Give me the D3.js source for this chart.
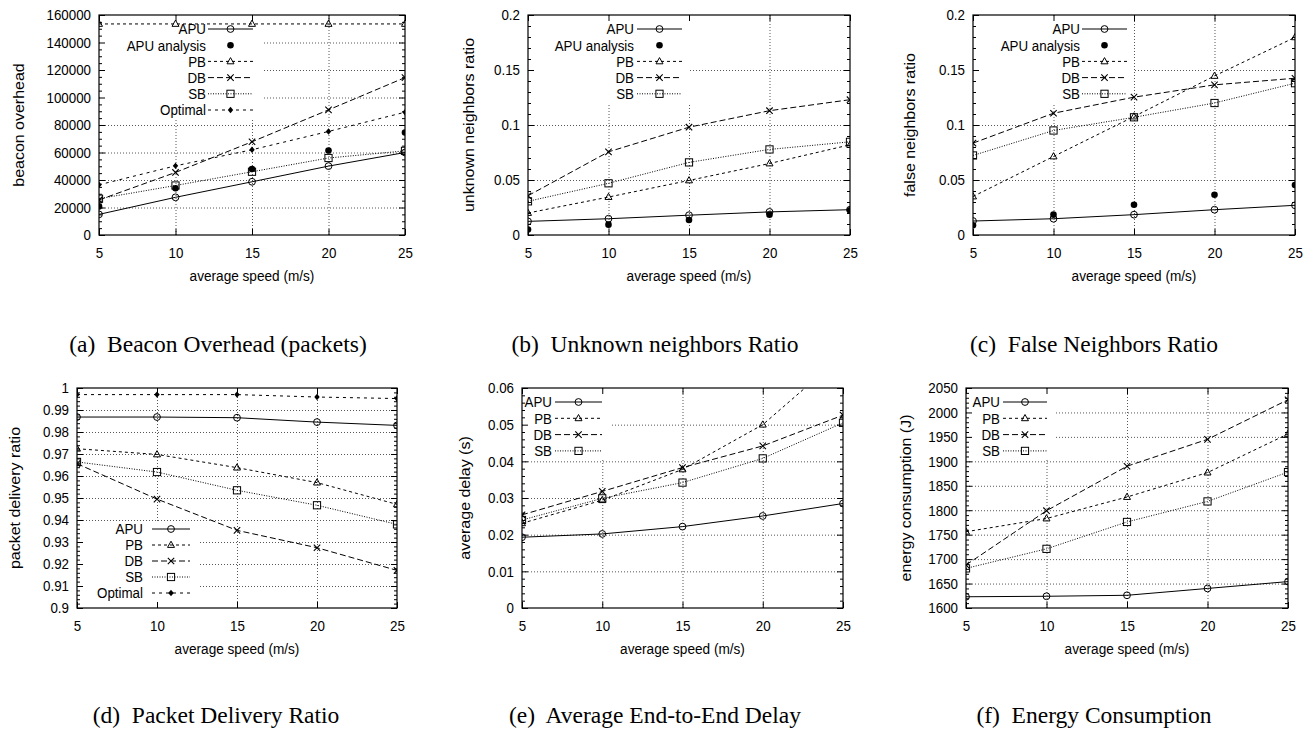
<!DOCTYPE html>
<html>
<head>
<meta charset="utf-8">
<script src="https://cdn.jsdelivr.net/npm/d3@7"></script>
<style>
  html, body { margin: 0; padding: 0; background: #fff; }
  svg { display: block; }
</style>
</head>
<body>
<svg id="chart" width="1314" height="731"></svg>
<script>
// ---------------- data ----------------
const speeds = [5, 10, 15, 20, 25];
const speedTickLabels = ["5", "10", "15", "20", "25"];

// (a) Beacon overhead (packets)
const overheadAPU      = [15000, 27400, 38700, 50100, 60000];
const overheadAnalysis = [20800, 34000, 48000, 61500, 74600];
const overheadPB       = [153500, 153500, 153500, 153500, 153500];
const overheadDB       = [25500, 45500, 67800, 91000, 114500];
const overheadSB       = [26400, 36000, 46000, 56000, 61200];
const overheadOptimal  = [36500, 50300, 62000, 75300, 89300];
const overheadTicks      = [0, 20000, 40000, 60000, 80000, 100000, 120000, 140000, 160000];
const overheadTickLabels = ["0", "20000", "40000", "60000", "80000", "100000", "120000", "140000", "160000"];

// (b) Unknown neighbors ratio
const unknownAPU      = [0.0124, 0.0148, 0.018, 0.021, 0.023];
const unknownAnalysis = [0.005, 0.0094, 0.0136, 0.0185, 0.0224];
const unknownPB       = [0.02, 0.0345, 0.0496, 0.065, 0.082];
const unknownDB       = [0.0357, 0.0756, 0.098, 0.113, 0.123];
const unknownSB       = [0.0306, 0.047, 0.066, 0.0778, 0.0847];

// (c) False neighbors ratio
const falseAPU      = [0.0127, 0.0148, 0.0185, 0.023, 0.027];
const falseAnalysis = [0.0088, 0.0185, 0.0275, 0.0366, 0.0454];
const falsePB       = [0.035, 0.0714, 0.1077, 0.1446, 0.1797];
const falseDB       = [0.0835, 0.1107, 0.1253, 0.1365, 0.1425];
const falseSB       = [0.0723, 0.095, 0.107, 0.12, 0.138];

const ratioTicks      = [0, 0.05, 0.1, 0.15, 0.2];
const ratioTickLabels = ["0", "0.05", "0.1", "0.15", "0.2"];

// (d) Packet delivery ratio
const pdrAPU     = [0.9868, 0.9868, 0.9865, 0.9845, 0.983];
const pdrPB      = [0.9724, 0.9698, 0.9638, 0.957, 0.9471];
const pdrDB      = [0.9656, 0.9495, 0.9353, 0.9274, 0.9171];
const pdrSB      = [0.9664, 0.9618, 0.9535, 0.9467, 0.938];
const pdrOptimal = [0.997, 0.997, 0.997, 0.9959, 0.9952];
const pdrTicks      = [0.9, 0.91, 0.92, 0.93, 0.94, 0.95, 0.96, 0.97, 0.98, 0.99, 1];
const pdrTickLabels = ["0.9", "0.91", "0.92", "0.93", "0.94", "0.95", "0.96", "0.97", "0.98", "0.99", "1"];

// (e) Average end-to-end delay (s)
const delayAPU = [0.0193, 0.0202, 0.0222, 0.0251, 0.0285];
const delayPB  = [0.0231, 0.0294, 0.0378, 0.0500, 0.0690];
const delayDB  = [0.0254, 0.0318, 0.0383, 0.0442, 0.0526];
const delaySB  = [0.0240, 0.0299, 0.0342, 0.0408, 0.0505];
const delayTicks      = [0, 0.01, 0.02, 0.03, 0.04, 0.05, 0.06];
const delayTickLabels = ["0", "0.01", "0.02", "0.03", "0.04", "0.05", "0.06"];

// (f) Energy consumption (J)
const energyAPU = [1623, 1624, 1626, 1640, 1654];
const energyPB  = [1756, 1783, 1827, 1877, 1956];
const energyDB  = [1688, 1799, 1890, 1945, 2026];
const energySB  = [1681, 1721, 1776, 1818, 1878];
const energyTicks      = [1600, 1650, 1700, 1750, 1800, 1850, 1900, 1950, 2000, 2050];
const energyTickLabels = ["1600", "1650", "1700", "1750", "1800", "1850", "1900", "1950", "2000", "2050"];

// ---------------- styles ----------------
const styles = {
  "APU":          { dash: null,    marker: "circle",  line: true },
  "APU analysis": { dash: null,    marker: "dot",     line: false },
  "PB":           { dash: "3,3",   marker: "tri",     line: true },
  "DB":           { dash: "6,3",   marker: "x",       line: true },
  "SB":           { dash: "1,1.5", marker: "sq",      line: true },
  "Optimal":      { dash: "3,4",   marker: "diamond", line: true }
};

const panels = [
  { box: [99, 405, 15, 235], yTicks: overheadTicks, yLabels: overheadTickLabels, minorDiv: 4,
    ylabel: "beacon overhead", ylabelX: 19, captionX: 218, captionY: 352,
    caption: "(a)\u00a0 Beacon Overhead (packets)",
    series: [["APU", overheadAPU], ["APU analysis", overheadAnalysis], ["PB", overheadPB],
             ["DB", overheadDB], ["SB", overheadSB], ["Optimal", overheadOptimal]],
    legend: { textRight: 206, x1: 208, x2: 253, y0: 29, dy: 16.2, boxRight: 262, boxTop: 15, boxBottom: 118 } },
  { box: [528, 850, 15, 235], yTicks: ratioTicks, yLabels: ratioTickLabels, minorDiv: 5,
    ylabel: "unknown neighbors ratio", ylabelX: 469, captionX: 655, captionY: 352,
    caption: "(b)\u00a0 Unknown neighbors Ratio",
    series: [["APU", unknownAPU], ["APU analysis", unknownAnalysis], ["PB", unknownPB],
             ["DB", unknownDB], ["SB", unknownSB]],
    legend: { textRight: 634, x1: 637, x2: 682, y0: 29, dy: 16.2, boxRight: 690, boxTop: 15, boxBottom: 103 } },
  { box: [973, 1295, 15, 235], yTicks: ratioTicks, yLabels: ratioTickLabels, minorDiv: 5,
    ylabel: "false neighbors ratio", ylabelX: 910, captionX: 1094, captionY: 352,
    caption: "(c)\u00a0 False Neighbors Ratio",
    series: [["APU", falseAPU], ["APU analysis", falseAnalysis], ["PB", falsePB],
             ["DB", falseDB], ["SB", falseSB]],
    legend: { textRight: 1080, x1: 1082, x2: 1127, y0: 29, dy: 16.2, boxRight: 1134, boxTop: 15, boxBottom: 103 } },
  { box: [77, 397, 388, 608], yTicks: pdrTicks, yLabels: pdrTickLabels, minorDiv: 5,
    ylabel: "packet delivery ratio", ylabelX: 15, captionX: 216, captionY: 723,
    caption: "(d)\u00a0 Packet Delivery Ratio",
    series: [["APU", pdrAPU], ["PB", pdrPB], ["DB", pdrDB], ["SB", pdrSB], ["Optimal", pdrOptimal]],
    legend: { textRight: 143, x1: 152, x2: 190, y0: 529, dy: 16, boxRight: 199, boxTop: 521, boxBottom: 608 } },
  { box: [522, 843, 388, 608], yTicks: delayTicks, yLabels: delayTickLabels, minorDiv: 5,
    ylabel: "average delay (s)", ylabelX: 465, captionX: 655, captionY: 723,
    caption: "(e)\u00a0 Average End-to-End Delay",
    series: [["APU", delayAPU], ["PB", delayPB], ["DB", delayDB], ["SB", delaySB]],
    legend: { textRight: 552, x1: 555, x2: 602, y0: 402, dy: 16.3, boxRight: 610, boxTop: 388, boxBottom: 458 } },
  { box: [966, 1288, 388, 608], yTicks: energyTicks, yLabels: energyTickLabels, minorDiv: 5,
    ylabel: "energy consumption (J)", ylabelX: 906, captionX: 1094, captionY: 723,
    caption: "(f)\u00a0 Energy Consumption",
    series: [["APU", energyAPU], ["PB", energyPB], ["DB", energyDB], ["SB", energySB]],
    legend: { textRight: 1000, x1: 1003, x2: 1047, y0: 402, dy: 16.3, boxRight: 1055, boxTop: 388, boxBottom: 458 } }
];

// ---------------- drawing ----------------
const svg = d3.select("#chart");
const SANS = "'Liberation Sans', Arial, Helvetica, sans-serif";
const SERIF = "'Liberation Serif', 'Times New Roman', serif";
const SX = 0.89;      // horizontal squeeze of the gnuplot text
const FS = 15;        // sans font size (vertical)

function drawMarker(g, type, cx, cy) {
  if (type === "circle") {
    g.append("circle").attr("cx", cx).attr("cy", cy).attr("r", 3.4)
      .attr("fill", "none").attr("stroke", "#000").attr("stroke-width", 1);
  } else if (type === "dot") {
    g.append("circle").attr("cx", cx).attr("cy", cy).attr("r", 3.3).attr("fill", "#000");
  } else if (type === "tri") {
    g.append("path").attr("d", `M${cx},${cy - 3.8}L${cx + 3.5},${cy + 2.4}L${cx - 3.5},${cy + 2.4}Z`)
      .attr("fill", "none").attr("stroke", "#000").attr("stroke-width", 1);
  } else if (type === "x") {
    g.append("path").attr("d", `M${cx - 3.2},${cy - 3.2}L${cx + 3.2},${cy + 3.2}M${cx - 3.2},${cy + 3.2}L${cx + 3.2},${cy - 3.2}`)
      .attr("fill", "none").attr("stroke", "#000").attr("stroke-width", 1.1);
  } else if (type === "sq") {
    g.append("rect").attr("x", cx - 3.6).attr("y", cy - 3.6).attr("width", 7.2).attr("height", 7.2)
      .attr("fill", "none").attr("stroke", "#000").attr("stroke-width", 1);
  } else if (type === "diamond") {
    g.append("path").attr("d", `M${cx},${cy - 3.2}L${cx + 2.7},${cy}L${cx},${cy + 3.2}L${cx - 2.7},${cy}Z`)
      .attr("fill", "#000");
  }
}

// squeezed text helper: anchor point (x,y)
function sqText(g, x, y, str, anchor, size) {
  return g.append("text")
    .attr("transform", `translate(${x},${y}) scale(${SX},1)`)
    .attr("text-anchor", anchor).attr("font-family", SANS).attr("font-size", size || FS)
    .attr("fill", "#000").text(str);
}

panels.forEach((p, idx) => {
  const [L, R, T, B] = p.box;
  const w = R - L, h = B - T;
  const x = d3.scaleLinear().domain([5, 25]).range([L, R]);
  const yMin = p.yTicks[0], yMax = p.yTicks[p.yTicks.length - 1];
  const y = d3.scaleLinear().domain([yMin, yMax]).range([B, T]);
  const g = svg.append("g");

  // grid (dotted)
  const grid = g.append("g");
  const gridY = grid.append("g").attr("transform", `translate(${L},0)`)
    .call(d3.axisLeft(y).tickValues(p.yTicks.slice(1, -1)).tickSize(-w).tickFormat(""));
  gridY.select(".domain").remove();
  const gridX = grid.append("g").attr("transform", `translate(0,${B})`)
    .call(d3.axisBottom(x).tickValues(speeds.slice(1, -1)).tickSize(-h).tickFormat(""));
  gridX.select(".domain").remove();
  grid.selectAll("line").attr("stroke", "#444").attr("stroke-width", 0.9).attr("stroke-dasharray", "1,2");

  // opaque legend box
  const lg = p.legend;
  g.append("rect").attr("x", L + 1).attr("y", lg.boxTop + 1)
    .attr("width", lg.boxRight - L - 1).attr("height", lg.boxBottom - lg.boxTop - 1)
    .attr("fill", "#fff");

  // minor ticks (left & right)
  const minor = [];
  for (let i = 0; i < p.yTicks.length - 1; i++) {
    const step = (p.yTicks[i + 1] - p.yTicks[i]) / p.minorDiv;
    for (let k = 1; k < p.minorDiv; k++) minor.push(p.yTicks[i] + k * step);
  }
  const ax = g.append("g").attr("class", "axes");
  ax.append("g").attr("transform", `translate(${L},0)`)
    .call(d3.axisLeft(y).tickValues(minor).tickSize(-3).tickFormat(""));
  ax.append("g").attr("transform", `translate(${R},0)`)
    .call(d3.axisRight(y).tickValues(minor).tickSize(-3).tickFormat(""));

  // major ticks + labels
  const yAxis = ax.append("g").attr("transform", `translate(${L},0)`)
    .call(d3.axisLeft(y).tickValues(p.yTicks).tickSize(-6).tickPadding(8)
      .tickFormat((d, i) => p.yLabels[i]));
  ax.append("g").attr("transform", `translate(${R},0)`)
    .call(d3.axisRight(y).tickValues(p.yTicks).tickSize(-6).tickFormat(""));
  const xAxis = ax.append("g").attr("transform", `translate(0,${B})`)
    .call(d3.axisBottom(x).tickValues(speeds).tickSize(-6).tickPadding(12)
      .tickFormat((d, i) => speedTickLabels[i]));
  ax.append("g").attr("transform", `translate(0,${T})`)
    .call(d3.axisTop(x).tickValues(speeds).tickSize(-6).tickFormat(""));
  ax.selectAll(".domain").remove();
  ax.selectAll("line").attr("stroke", "#000").attr("stroke-width", 1);
  ax.selectAll("text").attr("font-family", SANS).attr("font-size", FS).attr("fill", "#000");
  // squeeze tick labels horizontally around their anchor
  yAxis.selectAll("text").attr("transform", function () {
    const tx = +d3.select(this).attr("x");
    return `translate(${tx},0) scale(${SX},1) translate(${-tx},0)`;
  });
  xAxis.selectAll("text").attr("transform", `scale(${SX},1)`);

  // frame
  g.append("rect").attr("x", L).attr("y", T).attr("width", w).attr("height", h)
    .attr("fill", "none").attr("stroke", "#000").attr("stroke-width", 1.2);

  // clip
  const clipId = "clip" + idx;
  svg.append("clipPath").attr("id", clipId).append("rect")
    .attr("x", L).attr("y", T).attr("width", w).attr("height", h);

  // data
  const dg = g.append("g").attr("clip-path", `url(#${clipId})`);
  const lineGen = d3.line().x((d, i) => x(speeds[i])).y(d => y(d));
  p.series.forEach(([name, vals]) => {
    const st = styles[name];
    if (st.line) {
      dg.append("path").datum(vals).attr("d", lineGen)
        .attr("fill", "none").attr("stroke", "#000").attr("stroke-width", 1)
        .attr("stroke-dasharray", st.dash);
    }
    vals.forEach((v, i) => {
      if (v <= yMax) drawMarker(dg, st.marker, x(speeds[i]), y(v));
    });
  });

  // legend content
  const leg = g.append("g");
  p.series.forEach(([name], i) => {
    const st = styles[name];
    const cy = lg.y0 + i * lg.dy;
    sqText(leg, lg.textRight, cy, name, "end").attr("dy", "0.36em");
    if (st.line) {
      leg.append("line").attr("x1", lg.x1).attr("x2", lg.x2).attr("y1", cy).attr("y2", cy)
        .attr("stroke", "#000").attr("stroke-width", 1).attr("stroke-dasharray", st.dash);
    }
    drawMarker(leg, st.marker, (lg.x1 + lg.x2) / 2, cy);
  });

  // axis titles
  sqText(g, (L + R) / 2, B + 46, "average speed (m/s)", "middle", 15.3);
  g.append("text")
    .attr("transform", `translate(${p.ylabelX},${(T + B) / 2}) scale(${SX},1) rotate(-90)`)
    .attr("dy", "0.35em").attr("text-anchor", "middle").attr("font-family", SANS).attr("font-size", 16)
    .attr("fill", "#000").text(p.ylabel);

  // caption
  svg.append("text").attr("x", p.captionX).attr("y", p.captionY)
    .attr("text-anchor", "middle").attr("font-family", SERIF).attr("font-size", 23.5)
    .attr("fill", "#000").text(p.caption);
});
</script>
</body>
</html>
